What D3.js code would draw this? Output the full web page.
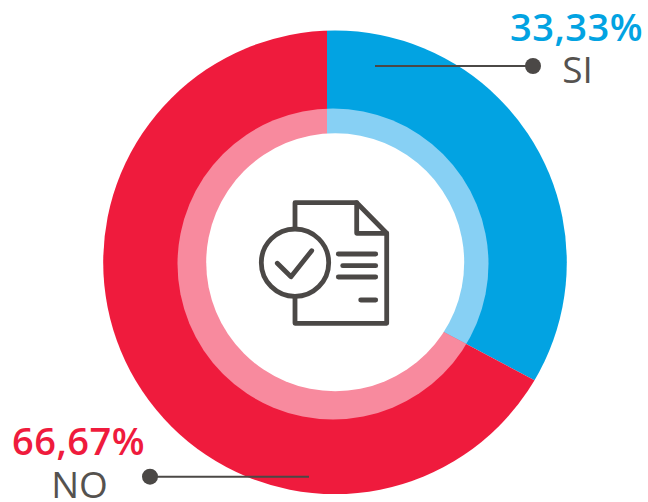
<!DOCTYPE html>
<html><head><meta charset="utf-8">
<style>html,body{margin:0;padding:0;background:#fff;overflow:hidden}svg{display:block}text{font-family:"Open Sans",sans-serif}</style>
<script src="https://cdn.jsdelivr.net/npm/d3@7"></script>
</head><body><svg id="c" width="648" height="502"></svg>
<script>
const categories = ["SI", "NO"];
const values = [33.33, 66.67];
const valueLabels = ["33,33%", "66,67%"];
const outerColors = ["#02a3e2", "#ef1b3d"];
const ringColors = ["#87d0f4", "#f88a9e"];
const sweepDegrees = 354;

const svg = d3.select("#c");
const apex = {x: 327, y: 270};
const outerDisc = {x: 335, y: 262.3, r: 231.8};
const ringDisc = {x: 333, y: 264, r: 155.5};
const holeDisc = {x: 335.2, y: 262.3, r: 129};

const pie = d3.pie().sort(null).value(d => d)
  .startAngle(0).endAngle(sweepDegrees * Math.PI / 180);
const slices = pie(values);
const arc = d3.arc().innerRadius(0).outerRadius(420);

const defs = svg.append("defs");
[["outerClip", outerDisc], ["ringClip", ringDisc]].forEach(([id, d]) => {
  defs.append("clipPath").attr("id", id).append("circle")
    .attr("cx", d.x).attr("cy", d.y).attr("r", d.r);
});
const closed = slices.map((s, i) => i === slices.length - 1 ? {...s, endAngle: 2 * Math.PI} : s);

[["outerClip", outerColors], ["ringClip", ringColors]].forEach(([id, cols]) => {
  svg.append("g").attr("clip-path", `url(#${id})`)
    .append("g").attr("transform", `translate(${apex.x},${apex.y})`)
    .selectAll("path").data(closed).join("path")
    .attr("d", arc).attr("fill", (d, i) => cols[i]);
});
svg.append("circle").attr("cx", holeDisc.x).attr("cy", holeDisc.y).attr("r", holeDisc.r).attr("fill", "#fff");

// Icon
const dark = "#4b4846";
const icon = svg.append("g").attr("fill", "none").attr("stroke", dark)
  .attr("stroke-width", 4.8).attr("stroke-linecap", "round").attr("stroke-linejoin", "round");
const iconPaths = [
  "M295,228V202.7H356.7L386.7,233.3V323.3H295V298",
  "M356.7,202.7V233.3H386.7",
  "M277.3,263.3L291,276.7L311.7,250.7",
  "M338.3,254H375.7","M342.7,265.7H375.7","M338.3,277H375.7","M360.7,300H375.7"
];
icon.selectAll("path").data(iconPaths).join("path").attr("d", d => d);
icon.append("circle").attr("cx", 295).attr("cy", 262.7).attr("r", 33.7);

// Leaders
const leaders = [
  {x1: 375, x2: 533, y: 66},
  {x1: 309, x2: 150, y: 476.7}
];
svg.selectAll("line.l").data(leaders).join("line").attr("class", "l")
  .attr("x1", d => d.x1).attr("x2", d => d.x2).attr("y1", d => d.y).attr("y2", d => d.y)
  .attr("stroke", dark).attr("stroke-width", 2);
svg.selectAll("circle.d").data(leaders).join("circle").attr("class", "d")
  .attr("cx", d => d.x2).attr("cy", d => d.y).attr("r", 8).attr("fill", dark);

// Labels
const labelPos = [
  {pctX: 643, pctY: 41, catX: 577.5, catY: 83},
  {pctX: 145, pctY: 455, catX: 79.5, catY: 498}
];
svg.selectAll("text.p").data(valueLabels).join("text").attr("class", "p")
  .attr("x", (d, i) => labelPos[i].pctX).attr("y", (d, i) => labelPos[i].pctY)
  .attr("text-anchor", "end").attr("font-size", 38).attr("font-weight", 600)
  .attr("letter-spacing", 0.5)
  .attr("fill", (d, i) => outerColors[i]).text(d => d);
svg.selectAll("text.c").data(categories).join("text").attr("class", "c")
  .attr("x", (d, i) => labelPos[i].catX).attr("y", (d, i) => labelPos[i].catY)
  .attr("text-anchor", "middle").attr("font-size", 37)
  .attr("fill", "#55524f").text(d => d);
</script></body></html>
